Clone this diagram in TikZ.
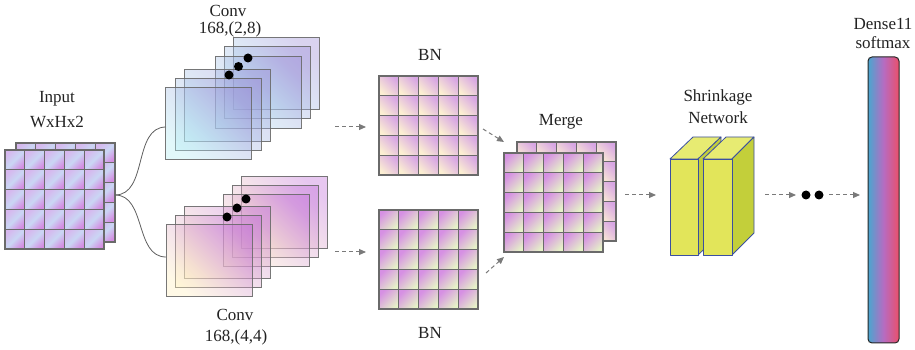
\documentclass[tikz,border=0pt]{standalone}
\usepackage{fontspec}
\setmainfont{Liberation Serif}
\usetikzlibrary{arrows.meta}
\definecolor{txt}{HTML}{222222}
\definecolor{gridc}{HTML}{6A6A6A}
\definecolor{inpurA}{HTML}{D6B8EE}
\definecolor{inpurB}{HTML}{D48EE2}
\definecolor{inblue}{HTML}{CAD6F4}
\definecolor{bnpurA}{HTML}{D8A6E4}
\definecolor{bncream}{HTML}{FCEFD2}
\definecolor{bnpurB}{HTML}{D690E3}
\definecolor{bngreen}{HTML}{E6F2C8}
\definecolor{cuA}{HTML}{9A8CD6}
\definecolor{cuB}{HTML}{B2ECF3}
\definecolor{clA}{HTML}{C06CD8}
\definecolor{clB}{HTML}{FFF0BE}
\definecolor{arrc}{HTML}{7A7A7A}
\definecolor{linec}{HTML}{5E5E5E}
\definecolor{yfront}{HTML}{E2E55A}
\definecolor{ytop}{HTML}{E7EB72}
\definecolor{yside}{HTML}{C3CF3A}
\definecolor{yedge}{HTML}{3B4FA0}
\definecolor{dblue}{HTML}{4AA6CF}
\definecolor{dpur}{HTML}{B66CC2}
\definecolor{dred}{HTML}{EA4F6A}
\newcommand\cellgrid[4]{%
  \foreach \i in {0,...,4}{\foreach \j in {0,...,4}{
    \shadedraw[#3, draw=gridc, line width=1.1pt] (#1+\i*19.8, 350-#2-\j*19.8) rectangle ++(19.8,-19.8);}}
  \node[inner sep=0, minimum width=99pt, minimum height=99pt, anchor=north west] (#4) at (#1,350-#2) {};
}
\newcommand\convrect[3]{%
  \shadedraw[#3] (#1,350-#2) rectangle ++(86,-72);
}
\tikzset{
  lbl/.style={text=txt, font=\fontsize{17}{19}\selectfont, inner sep=0},
  inshade/.style={top color=inpurA, bottom color=inpurB, middle color=inblue, shading angle=45},
  bnA/.style={top color=bnpurA, bottom color=bncream, shading angle=-45},
  bnB/.style={top color=bnpurB, bottom color=bngreen, shading angle=45},
  convU/.style={top color=cuA, bottom color=cuB, shading angle=-45, fill opacity=0.38, draw=gridc, draw opacity=0.9, line width=1pt},
  convL/.style={top color=clA, bottom color=clB, shading angle=-45, fill opacity=0.38, draw=gridc, draw opacity=0.9, line width=1pt},
  garrow/.style={draw=arrc, dash pattern=on 4pt off 3pt, line width=1pt, -{Triangle[length=7pt,width=6pt]}},
  curve/.style={draw=linec, line width=0.8pt},
  ybox/.style={draw=yedge, line width=0.8pt, line join=round},
}
\begin{document}
\begin{tikzpicture}[x=1pt,y=1pt]
\useasboundingbox (0,0) rectangle (915,350);
% ---------- input
\cellgrid{16}{143}{inshade}{inB}
\cellgrid{5}{150}{inshade}{inF}
\node[lbl] (tin1) at (57,350-99) {Input};
\node[lbl] (tin2) at (57,350-122) {WxHx2};
% ---------- curves
\coordinate (inR) at (115,350-195);
\coordinate (cU) at (166,350-127);
\coordinate (cL) at (166,350-257);
\draw[curve] (inR) to[out=0,in=180] (cU);
\draw[curve] (inR) to[out=0,in=180] (cL);
% ---------- upper conv
\convrect{233}{38}{convU}
\convrect{224}{47}{convU}
\convrect{215}{57}{convU}
\convrect{184}{70}{convU}
\convrect{175}{79}{convU}
\convrect{165}{88}{convU}
\fill (229,350-75) circle (4.5) (238.5,350-66.5) circle (4.5) (248,350-58) circle (4.5);
\node[lbl] (tcu1) at (228,350-10.5) {Conv};
\node[lbl] (tcu2) at (230,350-29.5) {168,(2,8)};
% ---------- lower conv
\convrect{241}{177}{convL}
\convrect{232}{186}{convL}
\convrect{223}{195}{convL}
\convrect{184}{207}{convL}
\convrect{175}{216}{convL}
\convrect{166}{225}{convL}
\fill (227,350-217) circle (4.5) (237,350-208) circle (4.5) (246,350-199) circle (4.5);
\node[lbl] (tcl1) at (235,350-315) {Conv};
\node[lbl] (tcl2) at (236,350-337) {168,(4,4)};
% ---------- BN
\cellgrid{379}{76}{bnA}{bnU}
\cellgrid{379}{210}{bnB}{bnL}
\node[lbl] (tbn1) at (430,350-55) {BN};
\node[lbl] (tbn2) at (430,350-333) {BN};
\coordinate (a1s) at (335,350-127); \coordinate (a1e) at (366,350-127);
\coordinate (a2s) at (335,350-252); \coordinate (a2e) at (366,350-252);
\draw[garrow] (a1s) -- (a1e);
\draw[garrow] (a2s) -- (a2e);
% ---------- merge
\cellgrid{517}{142}{bnA}{mB}
\cellgrid{504}{153}{bnB}{mF}
\node[lbl] (tmg) at (561,350-122) {Merge};
\coordinate (a3s) at (483,350-129); \coordinate (a3e) at (504,350-142);
\coordinate (a4s) at (486,350-273); \coordinate (a4e) at (504,350-257);
\draw[garrow] (a3s) -- (a3e);
\draw[garrow] (a4s) -- (a4e);
\coordinate (a5s) at (625,350-195); \coordinate (a5e) at (656,350-195);
\draw[garrow] (a5s) -- (a5e);
% ---------- shrinkage network
\filldraw[ybox, fill=ytop] (670,350-159) -- (693,350-137) -- (721,350-137) -- (698,350-159) -- cycle;
\filldraw[ybox, fill=yside] (698,350-159) -- (721,350-137) -- (721,350-233) -- (698,350-255) -- cycle;
\filldraw[ybox, fill=yfront] (670,350-159) rectangle (698,350-255);
\filldraw[ybox, fill=ytop] (703,350-159) -- (726,350-137) -- (754,350-137) -- (732,350-159) -- cycle;
\filldraw[ybox, fill=yside] (732,350-159) -- (754,350-137) -- (754,350-233) -- (732,350-255) -- cycle;
\filldraw[ybox, fill=yfront] (703,350-159) rectangle (732,350-255);
\node[lbl] (tsh1) at (718,350-97) {Shrinkage};
\node[lbl] (tsh2) at (718,350-118) {Network};
\coordinate (a6s) at (765,350-195); \coordinate (a6e) at (796,350-195);
\draw[garrow] (a6s) -- (a6e);
\fill (806,350-195) circle (4.5) (819,350-195) circle (4.5);
\coordinate (a7s) at (829,350-195); \coordinate (a7e) at (860,350-195);
\draw[garrow] (a7s) -- (a7e);
% ---------- dense
\shadedraw[left color=dblue, right color=dred, middle color=dpur, draw=black!85, line width=1pt, rounded corners=4pt] (868,350-57) rectangle (899,350-343);
\node[lbl] (td1) at (883,350-24) {Dense11};
\node[lbl] (td2) at (883,350-43) {softmax};
\end{tikzpicture}
\end{document}
